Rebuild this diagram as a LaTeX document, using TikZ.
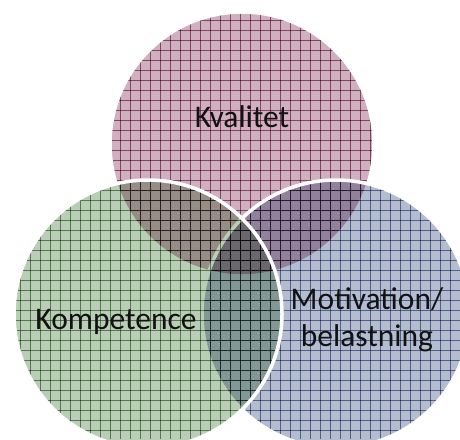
\documentclass[tikz,border=0pt]{standalone}
\usepackage{fontspec}
\setmainfont{Carlito}
\definecolor{pinkfill}{RGB}{208,176,190}
\definecolor{pinkline}{RGB}{156,104,132}
\definecolor{greenfill}{RGB}{186,205,182}
\definecolor{greenline}{RGB}{118,150,114}
\definecolor{bluefill}{RGB}{180,188,208}
\definecolor{blueline}{RGB}{118,130,164}
\tikzset{
  lbl/.style={font=\fontsize{31.5}{37}\selectfont, text=black!93, align=center, inner sep=0pt},
  rim/.style={draw=white, line width=3.5pt},
  gl/.style={line width=0.45pt}
}
\begin{document}
\begin{tikzpicture}[x=1pt,y=-1pt]
\useasboundingbox (0,0) rectangle (460,439);
\clip (0,0) rectangle (460,439);
% top circle (Kvalitet)
\begin{scope}[blend mode=multiply]
  \fill[pinkfill] (242,144) circle (132);
  \begin{scope}
    \clip (242,144) circle (132);
    \foreach \i in {0,10,...,460} \draw[pinkline, gl] (\i,0) -- (\i,439);
    \foreach \i in {0,10,...,440} \draw[pinkline, gl] (0,\i) -- (460,\i);
  \end{scope}
\end{scope}
\draw[rim] (242,144) circle (132);
% right circle (Motivation)
\begin{scope}[blend mode=multiply]
  \fill[bluefill] (336,314) circle (134);
  \begin{scope}
    \clip (336,314) circle (134);
    \foreach \i in {0,10,...,460} \draw[blueline, gl] (\i,0) -- (\i,439);
    \foreach \i in {0,10,...,440} \draw[blueline, gl] (0,\i) -- (460,\i);
  \end{scope}
\end{scope}
\draw[rim] (336,314) circle (134);
% left circle (Kompetence)
\begin{scope}[blend mode=multiply]
  \fill[greenfill] (148,314) circle (134);
  \begin{scope}
    \clip (148,314) circle (134);
    \foreach \i in {0,10,...,460} \draw[greenline, gl] (\i,0) -- (\i,439);
    \foreach \i in {0,10,...,440} \draw[greenline, gl] (0,\i) -- (460,\i);
  \end{scope}
\end{scope}
\draw[rim] (148,314) circle (134);
% labels
\node[lbl] (kval) at (242,117) {Kvalitet};
\node[lbl] (komp) at (116,322) {Kompetence};
\node[lbl] (moti) at (367,320) {Motivation/\\belastning};
\end{tikzpicture}
\end{document}
